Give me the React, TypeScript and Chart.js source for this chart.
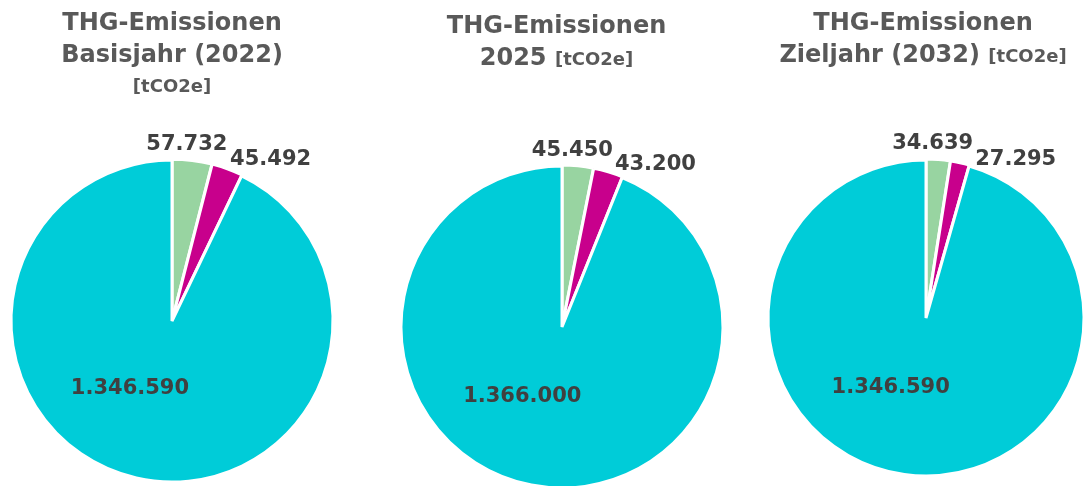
import React, { useEffect, useRef } from 'react';
import { Chart, registerables } from 'chart.js';

Chart.register(...registerables);

// ---- data ----
const categories = ['Scope 1', 'Scope 2', 'Scope 3'];
const values2022 = [57732, 45492, 1346590];
const values2025 = [45450, 43200, 1366000];
const values2032 = [34639, 27295, 1346590];
const sliceColors = ['#98D4A1', '#C8008C', '#00CCD8'];

const FONT = '"DejaVu Sans", "Noto Sans", sans-serif';
const TITLE_COLOR = '#595959';
const LABEL_COLOR = '#404040';
const CANVAS_H = 500;

type Part = { text: string; size: number };
type Line = { baseline: number; parts: Part[] };
type Cfg = {
  values: number[];
  left: number;
  width: number;
  cx: number;
  cy: number;
  r: number;
  titleX: number;
  title: Line[];
};

const chartCfgs: Cfg[] = [
  {
    values: values2022,
    left: 0,
    width: 361,
    cx: 172,
    cy: 321,
    r: 161,
    titleX: 172,
    title: [
      { baseline: 30, parts: [{ text: 'THG-Emissionen', size: 24 }] },
      { baseline: 62, parts: [{ text: 'Basisjahr (2022)', size: 24 }] },
      { baseline: 92, parts: [{ text: '[tCO2e]', size: 18 }] },
    ],
  },
  {
    values: values2025,
    left: 361,
    width: 380,
    cx: 562,
    cy: 327,
    r: 161,
    titleX: 556.5,
    title: [
      { baseline: 33, parts: [{ text: 'THG-Emissionen', size: 24 }] },
      {
        baseline: 65,
        parts: [
          { text: '2025 ', size: 24 },
          { text: '[tCO2e]', size: 18 },
        ],
      },
    ],
  },
  {
    values: values2032,
    left: 722,
    width: 400,
    cx: 926,
    cy: 318,
    r: 158,
    titleX: 923,
    title: [
      { baseline: 30, parts: [{ text: 'THG-Emissionen', size: 24 }] },
      {
        baseline: 62,
        parts: [
          { text: 'Zieljahr (2032) ', size: 24 },
          { text: '[tCO2e]', size: 18 },
        ],
      },
    ],
  },
];

const fmt = (v: number) => String(v).replace(/\B(?=(\d{3})+(?!\d))/g, '.');

function makeTitlePlugin(cfg: Cfg) {
  return {
    id: 'customTitle',
    afterDraw(chart: any) {
      const ctx = chart.ctx as CanvasRenderingContext2D;
      ctx.save();
      ctx.fillStyle = TITLE_COLOR;
      ctx.textAlign = 'left';
      ctx.textBaseline = 'alphabetic';
      const tx = cfg.titleX - cfg.left;
      for (const line of cfg.title) {
        let total = 0;
        const widths: number[] = [];
        for (const p of line.parts) {
          ctx.font = `bold ${p.size}px ${FONT}`;
          const w = ctx.measureText(p.text).width;
          widths.push(w);
          total += w;
        }
        let x = tx - total / 2;
        line.parts.forEach((p, i) => {
          ctx.font = `bold ${p.size}px ${FONT}`;
          ctx.fillText(p.text, x, line.baseline);
          x += widths[i];
        });
      }
      ctx.restore();
    },
  };
}

const labelPlugin = {
  id: 'sliceLabels',
  afterDatasetsDraw(chart: any) {
    const ctx = chart.ctx as CanvasRenderingContext2D;
    const meta = chart.getDatasetMeta(0);
    const data = chart.data.datasets[0].data as number[];
    const total = data.reduce((a, b) => a + b, 0);
    ctx.save();
    ctx.fillStyle = LABEL_COLOR;
    ctx.font = `bold 21px ${FONT}`;
    let prevRight = -Infinity;
    meta.data.forEach((arc: any, i: number) => {
      const { x, y, startAngle, endAngle, outerRadius } = arc.getProps(
        ['x', 'y', 'startAngle', 'endAngle', 'outerRadius'],
        true
      );
      const mid = (startAngle + endAngle) / 2;
      const text = fmt(data[i]);
      const w = ctx.measureText(text).width;
      const frac = data[i] / total;
      if (frac < 0.1) {
        const d = outerRadius + 6;
        const px = x + Math.cos(mid) * d;
        const py = y + Math.sin(mid) * d;
        if (i === 0) {
          const c = px - 6;
          ctx.textAlign = 'center';
          ctx.textBaseline = 'alphabetic';
          ctx.fillText(text, c, py - 5);
          prevRight = c + w / 2;
        } else {
          let lx = px + 1;
          let by = py + 1;
          if (lx < prevRight + 2) {
            const overlap = prevRight + 2 - lx;
            lx = prevRight + 2;
            by += Math.min(6, overlap * 0.5);
          }
          ctx.textAlign = 'left';
          ctx.textBaseline = 'alphabetic';
          ctx.fillText(text, lx, by);
          prevRight = lx + w;
        }
      } else {
        const ang = mid + (17 * Math.PI) / 180;
        const d = outerRadius * 0.5;
        const lx = x + Math.cos(ang) * d;
        const ly = y + Math.sin(ang) * d;
        ctx.textAlign = 'center';
        ctx.textBaseline = 'middle';
        ctx.fillText(text, lx - 2, ly - 2);
      }
    });
    ctx.restore();
  },
};

function PieChart({ cfg }: { cfg: Cfg }) {
  const ref = useRef<HTMLCanvasElement | null>(null);
  useEffect(() => {
    if (!ref.current) return;
    const localCx = cfg.cx - cfg.left;
    const padLeft = localCx - cfg.r;
    const padRight = cfg.width - (localCx + cfg.r);
    const padTop = cfg.cy - cfg.r;
    const padBottom = CANVAS_H - (cfg.cy + cfg.r);
    const chart = new Chart(ref.current, {
      type: 'pie',
      data: {
        labels: categories,
        datasets: [
          {
            data: cfg.values,
            backgroundColor: sliceColors,
            borderColor: '#FFFFFF',
            borderWidth: 3,
            offset: [2, 2, 0],
            radius: cfg.r,
          } as any,
        ],
      },
      options: {
        animation: false,
        responsive: false,
        devicePixelRatio: 1,
        layout: {
          padding: { left: padLeft, right: padRight, top: padTop, bottom: padBottom },
        },
        plugins: {
          legend: { display: false },
          tooltip: { enabled: false },
          title: { display: false },
        },
      },
      plugins: [labelPlugin, makeTitlePlugin(cfg)],
    });
    return () => chart.destroy();
  }, [cfg]);
  return (
    <canvas
      ref={ref}
      width={cfg.width}
      height={CANVAS_H}
      style={{
        position: 'absolute',
        left: cfg.left,
        top: 0,
        width: cfg.width,
        height: CANVAS_H,
        display: 'block',
      }}
    />
  );
}

export default function App() {
  return (
    <div
      style={{
        position: 'absolute',
        left: 0,
        top: 0,
        width: 1083,
        height: 486,
        overflow: 'hidden',
        background: '#FFFFFF',
      }}
    >
      {chartCfgs.map((c, i) => (
        <PieChart key={i} cfg={c} />
      ))}
    </div>
  );
}
